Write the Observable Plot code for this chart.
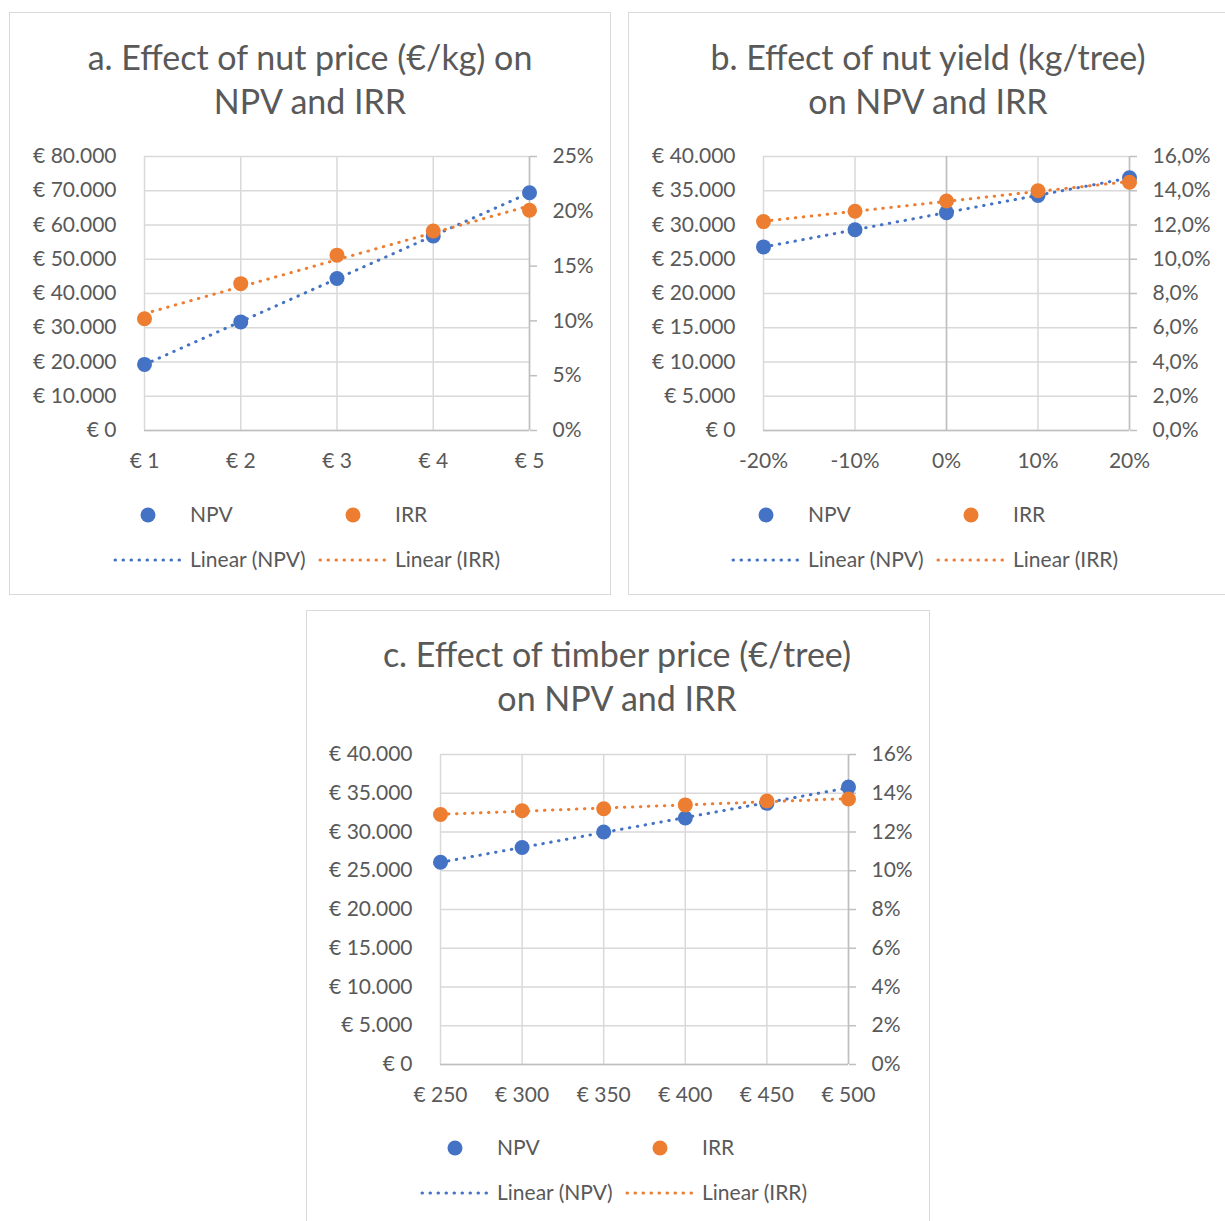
<!DOCTYPE html>
<html>
<head>
<meta charset="utf-8">
<script src="https://cdn.jsdelivr.net/npm/d3@7"></script>
<script src="https://cdn.jsdelivr.net/npm/@observablehq/plot@0.6"></script>
<style>
  body { margin: 0; background: #fff; font-family: Lato, "Open Sans", sans-serif; color: #595959; }
  .panel { position: absolute; border: 1.5px solid #d9d9d9; box-sizing: border-box; background: #fff; }
  .title { position: absolute; text-align: center; font-size: 34px; line-height: 44px; white-space: nowrap; transform: translateX(-50%); }
  .chart, .legend { position: absolute; }
</style>
</head>
<body>
<div id="root"></div>
<script>
// Sensitivity of NPV (€) and IRR (%) to three input parameters
const nutPrice = [1, 2, 3, 4, 5];
const nutPriceNPV = [19300, 31700, 44400, 56800, 69400];
const nutPriceIRR = [10.2, 13.4, 16.0, 18.2, 20.1];

const nutYield = [-20, -10, 0, 10, 20];
const nutYieldNPV = [26800, 29300, 31800, 34300, 36900];
const nutYieldIRR = [12.2, 12.8, 13.4, 14.0, 14.5];

const timberPrice = [250, 300, 350, 400, 450, 500];
const timberPriceNPV = [26100, 28000, 30000, 31800, 33700, 35800];
const timberPriceIRR = [12.9, 13.1, 13.2, 13.4, 13.6, 13.7];

// Axis ticks
const npvTicksA = [0, 10000, 20000, 30000, 40000, 50000, 60000, 70000, 80000];
const irrTicksA = [0, 5, 10, 15, 20, 25];
const npvTicksBC = [0, 5000, 10000, 15000, 20000, 25000, 30000, 35000, 40000];
const irrTicksBC = [0, 2, 4, 6, 8, 10, 12, 14, 16];

const BLUE = "#4472c4", ORANGE = "#ed7d31", TEXT = "#595959", GRID = "#d9d9d9", AXIS = "#bfbfbf";
const FONT = "Lato, 'Open Sans', sans-serif";
const FS = 21;

const nl = d3.formatLocale({decimal: ",", thousands: ".", grouping: [3], currency: ["€ ", ""], minus: "-"});
const euro = nl.format("$,.0f");
const pct0 = d => nl.format(".0f")(d) + "%";
const pct1 = d => nl.format(".1f")(d) + "%";

const root = document.getElementById("root");

function addDiv(cls, style, html) {
  const d = document.createElement("div");
  d.className = cls;
  Object.assign(d.style, style);
  if (html != null) d.innerHTML = html;
  root.appendChild(d);
  return d;
}

function panel(cfg) {
  const {box, title, titleX, titleY, xs, npv, irr, xTicks, xFormat, npvMax, npvTicks, irrMax, irrTicks, irrFormat, plot, zeroRule, legendX, legendY} = cfg;
  addDiv("panel", {left: box[0] + "px", top: box[1] + "px", width: box[2] + "px", height: box[3] + "px"});
  addDiv("title", {left: titleX + "px", top: (titleY - 22) + "px"}, title.join("<br>"));

  const k = npvMax / irrMax; // IRR shares the NPV scale via this factor
  const rows = xs.map((x, i) => ({x, npv: npv[i], irr: irr[i] * k}));

  const mL = 135, mR = 95, mT = 20, mB = 55;
  const [pl, pt, pr, pb] = plot;
  const chart = Plot.plot({
    width: pr - pl + mL + mR,
    height: pb - pt + mT + mB,
    marginLeft: mL, marginRight: mR, marginTop: mT, marginBottom: mB,
    style: {fontFamily: FONT, fontSize: FS + "px", color: TEXT, background: "transparent"},
    x: {domain: [xTicks[0], xTicks[xTicks.length - 1]]},
    y: {domain: [0, npvMax]},
    marks: [
      Plot.gridX(xTicks, {stroke: GRID, strokeOpacity: 1, strokeWidth: 1.5}),
      Plot.gridY(npvTicks, {stroke: GRID, strokeOpacity: 1, strokeWidth: 1.5}),
      zeroRule ? Plot.ruleX([0], {stroke: AXIS, strokeWidth: 1.5}) : null,
      Plot.ruleY([0], {stroke: AXIS, strokeWidth: 1.5}),
      Plot.ruleX([xTicks[xTicks.length - 1]], {stroke: AXIS, strokeWidth: 1.5}),
      Plot.axisX(xTicks, {tickSize: 0, tickPadding: 23, tickFormat: xFormat, fontSize: FS, fill: TEXT, label: null}),
      Plot.axisY(npvTicks, {anchor: "left", tickSize: 0, tickPadding: 28, tickFormat: euro, fontSize: FS, fill: TEXT, label: null}),
      Plot.axisY(irrTicks.map(t => t * k), {anchor: "right", tickSize: 7, tickPadding: 16, stroke: AXIS, strokeWidth: 1.5, tickFormat: d => irrFormat(d / k), fontSize: FS, fill: TEXT, label: null}),
      Plot.linearRegressionY(rows, {x: "x", y: "npv", stroke: BLUE, ci: 0, strokeWidth: 3, strokeDasharray: "0.5 7.5", strokeLinecap: "round"}),
      Plot.linearRegressionY(rows, {x: "x", y: "irr", stroke: ORANGE, ci: 0, strokeWidth: 3, strokeDasharray: "0.5 7.5", strokeLinecap: "round"}),
      Plot.dot(rows, {x: "x", y: "npv", r: 7.5, fill: BLUE}),
      Plot.dot(rows, {x: "x", y: "irr", r: 7.5, fill: ORANGE})
    ]
  });
  const wrap = addDiv("chart", {left: (pl - mL) + "px", top: (pt - mT) + "px"});
  wrap.appendChild(chart);

  // Legend: markers on the first row, trendline swatches on the second
  const lg = d3.create("svg").attr("width", 460).attr("height", 70)
    .style("font-family", FONT).style("font-size", FS + "px").style("overflow", "visible");
  const ox = legendX - 50, oy = legendY - 20;
  const g = lg.append("g").attr("transform", `translate(${50},${20})`);
  const items = [
    {dx: 0, c: BLUE, t: "NPV", lt: "Linear (NPV)"},
    {dx: 205, c: ORANGE, t: "IRR", lt: "Linear (IRR)"}
  ];
  for (const it of items) {
    g.append("circle").attr("cx", it.dx).attr("cy", 0).attr("r", 7.5).attr("fill", it.c);
    g.append("text").attr("x", it.dx + 42).attr("y", 0).attr("dy", "0.35em").attr("fill", TEXT).text(it.t);
    g.append("line").attr("x1", it.dx - 33).attr("x2", it.dx + 33).attr("y1", 45).attr("y2", 45)
      .attr("stroke", it.c).attr("stroke-width", 3).attr("stroke-dasharray", "0.5 7.5").attr("stroke-linecap", "round");
    g.append("text").attr("x", it.dx + 42).attr("y", 45).attr("dy", "0.35em").attr("fill", TEXT).text(it.lt);
  }
  const lw = addDiv("legend", {left: ox + "px", top: oy + "px"});
  lw.appendChild(lg.node());
}

panel({
  box: [9, 12, 602, 583], title: ["a. Effect of nut price (€/kg) on", "NPV and IRR"], titleX: 310, titleY: 57,
  xs: nutPrice, npv: nutPriceNPV, irr: nutPriceIRR, xTicks: nutPrice, xFormat: euro,
  npvMax: 80000, npvTicks: npvTicksA, irrMax: 25, irrTicks: irrTicksA, irrFormat: pct0,
  plot: [144, 156, 529, 430], zeroRule: false, legendX: 148, legendY: 515
});

panel({
  box: [628, 12, 600, 583], title: ["b. Effect of nut yield (kg/tree)", "on NPV and IRR"], titleX: 928, titleY: 57,
  xs: nutYield, npv: nutYieldNPV, irr: nutYieldIRR, xTicks: nutYield, xFormat: pct0,
  npvMax: 40000, npvTicks: npvTicksBC, irrMax: 16, irrTicks: irrTicksBC, irrFormat: pct1,
  plot: [763, 156, 1129, 430], zeroRule: true, legendX: 766, legendY: 515
});

panel({
  box: [306, 610, 624, 620], title: ["c. Effect of timber price (€/tree)", "on NPV and IRR"], titleX: 617, titleY: 654,
  xs: timberPrice, npv: timberPriceNPV, irr: timberPriceIRR, xTicks: timberPrice, xFormat: euro,
  npvMax: 40000, npvTicks: npvTicksBC, irrMax: 16, irrTicks: irrTicksBC, irrFormat: pct0,
  plot: [440, 754, 848, 1064], zeroRule: false, legendX: 455, legendY: 1148
});
</script>
</body>
</html>
